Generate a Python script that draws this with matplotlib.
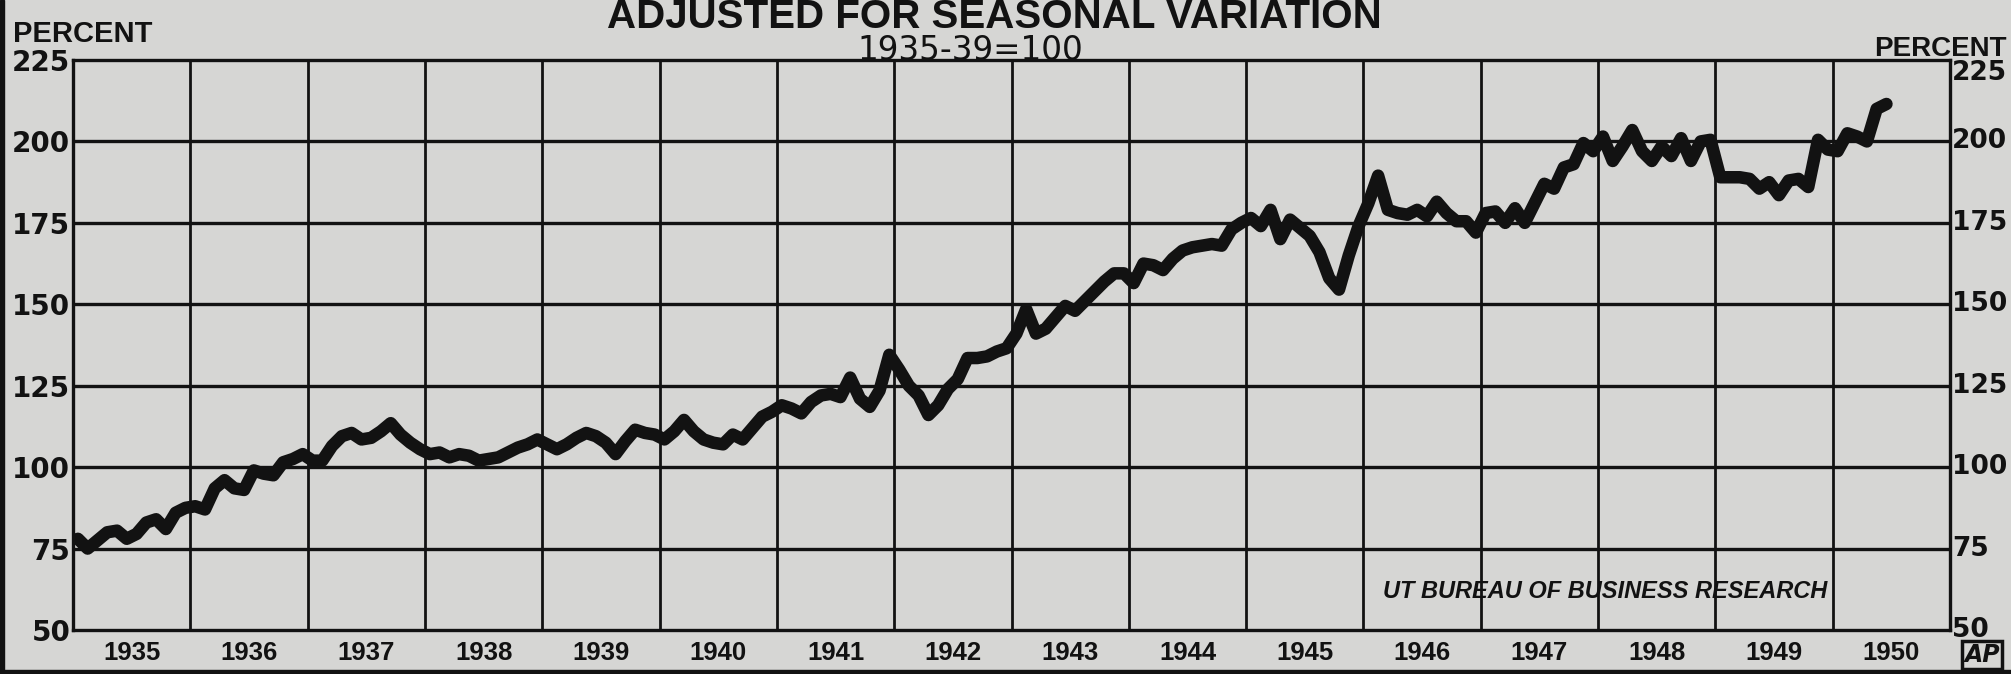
import matplotlib
matplotlib.use("Agg")
import matplotlib.pyplot as plt
from matplotlib import font_manager
import numpy as np

# ---------------- data ----------------
years = list(range(1935, 1951))
year_labels = [str(y) for y in years]
y_ticks = [50, 75, 100, 125, 150, 175, 200, 225]

# monthly index values (1935-39 = 100), seasonally adjusted, Jan 1935 .. Jun 1950
v1935 = [78, 75, 77.5, 80, 80.5, 78, 79.5, 83, 84, 81, 86, 87.5]
v1936 = [88, 87, 93.5, 96, 93.5, 93, 99, 98, 97.5, 101.5, 102.5, 104]
v1937 = [102, 102, 106.5, 109.5, 110.5, 108.5, 109, 111, 113.5, 110, 107.5, 105.5]
v1938 = [104, 104.5, 103, 104, 103.5, 102, 102.5, 103, 104.5, 106, 107, 108.5]
v1939 = [107, 105.5, 107, 109, 110.5, 109.5, 107.5, 104, 108, 111.5, 110.5, 110]
v1940 = [108.5, 111, 114.5, 111, 108.5, 107.5, 107, 110, 108.5, 112, 115.5, 117]
v1941 = [119, 118, 116.5, 120, 122, 122.5, 121.5, 127.5, 121, 118.5, 123.5, 134.5]
v1942 = [130, 125, 122, 116, 119, 124, 127, 133.5, 133.5, 134, 135.5, 136.5]
v1943 = [141, 148.5, 141, 142.5, 146, 149.5, 148, 151, 154, 157, 159.5, 159.5]
v1944 = [156.5, 162.5, 162, 160.5, 164, 166.5, 167.5, 168, 168.5, 168, 173, 175]
v1945 = [176.5, 174, 179, 170, 176, 173.5, 171, 166, 158, 154.5, 165, 174]
v1946 = [181, 189.5, 179, 178, 177.5, 179, 177, 181.5, 178, 175.5, 175.5, 172]
v1947 = [178, 178.5, 175, 179.5, 175, 181, 187, 185.5, 192, 193, 199.5, 197]
v1948 = [201.5, 194, 198.5, 203.5, 197, 194, 198.5, 195.5, 201, 194, 200, 200.5]
v1949 = [189, 189, 189, 188.5, 185.5, 187.5, 183.5, 188, 188.5, 186, 200.5, 197.5]
v1950 = [197, 202.5, 201.5, 200, 210, 211.5]

values = (v1935 + v1936 + v1937 + v1938 + v1939 + v1940 + v1941 + v1942 +
          v1943 + v1944 + v1945 + v1946 + v1947 + v1948 + v1949 + v1950)
months = 1935 + (np.arange(len(values)) + 0.5) / 12.0

# ---------------- fonts ----------------
installed = {f.name for f in font_manager.fontManager.ttflist}
NARROW = ['Liberation Sans', 'DejaVu Sans'] if 'Liberation Sans' in installed else ['DejaVu Sans']
BOLD = ['DejaVu Sans']

BG = '#d6d6d4'
INK = '#121212'

W, H = 2011, 674
fig = plt.figure(figsize=(W / 100, H / 100), dpi=100, facecolor=BG)

ax_l, ax_r, ax_t, ax_b = 73, 1950, 60, 630
ax = fig.add_axes([ax_l / W, 1 - ax_b / H, (ax_r - ax_l) / W, (ax_b - ax_t) / H])
ax.set_facecolor(BG)
ax.set_xlim(1935, 1951)
ax.set_ylim(50, 225)

# grid
for yr in years[1:]:
    ax.axvline(yr, color=INK, lw=2.0, zorder=1)
for yt in y_ticks[1:-1]:
    ax.axhline(yt, color=INK, lw=2.4, zorder=1)
for s in ax.spines.values():
    s.set_color(INK)
    s.set_linewidth(2.4)

# data line
ax.plot(months, values, color=INK, lw=9, solid_joinstyle='round',
        solid_capstyle='round', zorder=3)

# ticks
ax.set_xticks([y + 0.5 for y in years])
ax.set_xticklabels(year_labels, family=NARROW, fontweight='bold', fontsize=18.5, color=INK)
ax.set_yticks(y_ticks)
ax.set_yticklabels([str(v) for v in y_ticks], family=BOLD, fontweight='bold',
                   fontsize=20, color=INK)
ax.tick_params(axis='both', length=0)
ax.tick_params(axis='x', pad=8)
ax.tick_params(axis='y', pad=2)

# right axis labels
ytrans = ax.get_yaxis_transform()
for v in y_ticks:
    ax.text(1.0 + 2 / (ax_r - ax_l), v, str(v), transform=ytrans, family=BOLD,
            fontweight='bold', fontsize=19, color=INK, ha='left',
            va='top' if v == y_ticks[-1] else 'center', clip_on=False)

# titles
fig.text(994 / W, 1 - 28 / H, 'ADJUSTED FOR SEASONAL VARIATION', family=NARROW,
         fontweight='bold', fontsize=29, color=INK, ha='center', va='baseline')
fig.text(970 / W, 1 - 60 / H, '1935-39=100', family=BOLD, fontsize=23.5,
         color=INK, ha='center', va='baseline')
fig.text(13 / W, 1 - 42 / H, 'PERCENT', family=NARROW, fontweight='bold',
         fontsize=21, color=INK, ha='left', va='baseline')
fig.text(2007 / W, 1 - 56 / H, 'PERCENT', family=NARROW, fontweight='bold',
         fontsize=20, color=INK, ha='right', va='baseline')

# source credit
fig.text(1605 / W, 1 - 598 / H, 'UT BUREAU OF BUSINESS RESEARCH',
         family=NARROW, fontweight='bold', fontstyle='italic', fontsize=17,
         color=INK, ha='center', va='baseline')

# AP logo
fig.text(1982 / W, 1 - 655 / H, 'AP', family=BOLD, fontweight='bold', fontstyle='italic',
         fontsize=17, color=INK, ha='center', va='center',
         bbox=dict(boxstyle='square,pad=0.1', fc=BG, ec=INK, lw=2.5))

# scan edges
fig.add_artist(plt.Rectangle((0, 0), 4 / W, 1, transform=fig.transFigure,
                             color=INK, zorder=0))
fig.add_artist(plt.Rectangle((0, 0), 1, 4 / H, transform=fig.transFigure,
                             color=INK, zorder=0))

fig.savefig('out.png', dpi=100, facecolor=BG)
